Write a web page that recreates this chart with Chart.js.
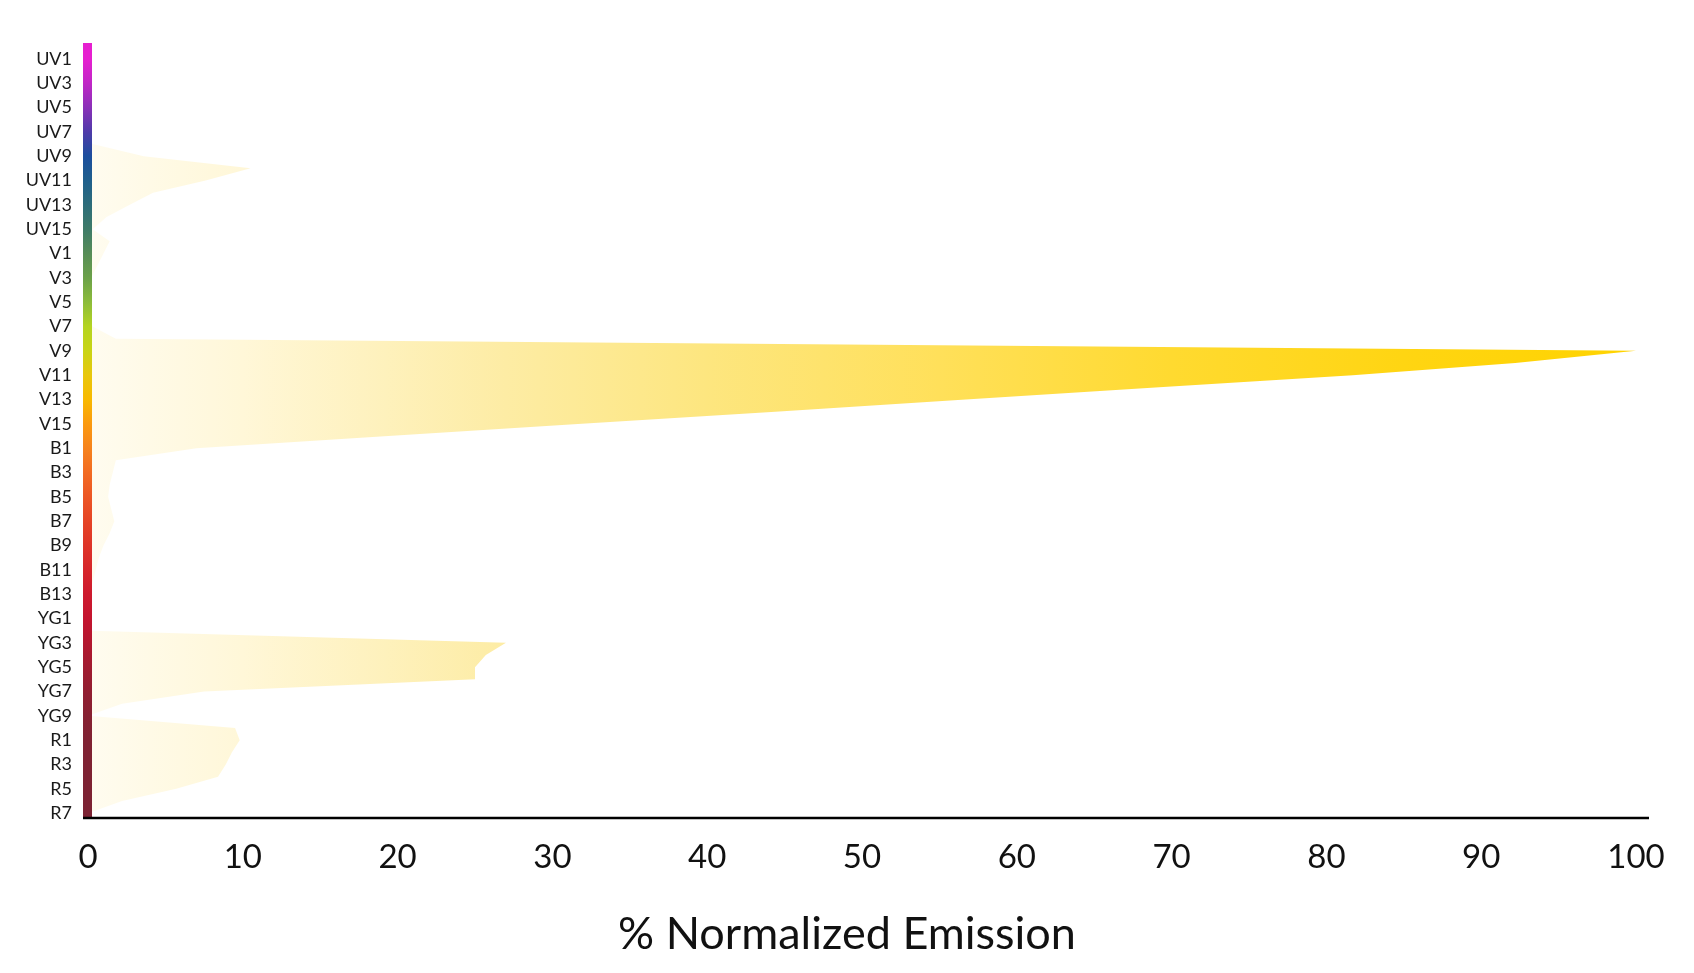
<!DOCTYPE html>
<html>
<head>
<meta charset="utf-8">
<script src="https://cdn.jsdelivr.net/npm/chart.js@4.4.1/dist/chart.umd.min.js"></script>
<style>
html,body{margin:0;padding:0;background:#fff;}
#wrap{width:1694px;height:973px;position:relative;}
</style>
</head>
<body>
<div id="wrap"><canvas id="c"></canvas></div>
<script>
// ---- data ----
const categories = [
  'UV1','UV2','UV3','UV4','UV5','UV6','UV7','UV8','UV9','UV10','UV11','UV12','UV13','UV14','UV15','UV16',
  'V1','V2','V3','V4','V5','V6','V7','V8','V9','V10','V11','V12','V13','V14','V15','V16',
  'B1','B2','B3','B4','B5','B6','B7','B8','B9','B10','B11','B12','B13','B14',
  'YG1','YG2','YG3','YG4','YG5','YG6','YG7','YG8','YG9','YG10',
  'R1','R2','R3','R4','R5','R6','R7'
];
const emission = [
  0, 0, 0, 0, 0, 0, 0, 0.3, 3.6, 10.5, 7.6, 4.2, 2.7, 1.2, 0.3, 1.4,
  1.0, 0.6, 0.2, 0, 0, 0, 0.3, 1.8, 100, 92.2, 81.7, 69.2, 56.7, 44.4, 31.9, 19.4,
  7.0, 1.8, 1.6, 1.4, 1.3, 1.5, 1.7, 1.4, 1.0, 0.7, 0.5, 0.3, 0.1, 0,
  0, 0.2, 27.0, 25.7, 25.0, 25.0, 7.5, 2.2, 0, 9.5,
  9.8, 9.3, 8.9, 8.4, 5.7, 2.2, 0
];
const shownLabels = ['UV1','UV3','UV5','UV7','UV9','UV11','UV13','UV15','V1','V3','V5','V7','V9','V11','V13','V15',
  'B1','B3','B5','B7','B9','B11','B13','YG1','YG3','YG5','YG7','YG9','R1','R3','R5','R7'];
const xTickValues = [0,10,20,30,40,50,60,70,80,90,100];
const axisTitle = '% Normalized Emission';
// colour of the wavelength bar at each labelled category
const bandColors = [
  ['UV1','#e61fd0'],['UV3','#c026c6'],['UV5','#8a30b8'],['UV7','#4f3aa9'],['UV9','#1c4e9e'],
  ['UV11','#1f5f8c'],['UV13','#2d6d7a'],['UV15','#3e7b68'],['V1','#578d57'],['V3','#6ba149'],
  ['V5','#8cbc3a'],['V7','#b4d420'],['V9','#c9d415'],['V11','#e8c70c'],['V13','#f8b900'],
  ['V15','#fb9a0f'],['B1','#f6831d'],['B3','#f26b22'],['B5','#ec5625'],['B7','#e54426'],
  ['B9','#de3428'],['B11','#d6262b'],['B13','#cd1a2e'],['YG1','#c4142f'],['YG3','#b3172f'],
  ['YG5','#a11b30'],['YG7','#921e31'],['YG9','#872132'],['R1','#802233'],['R7','#7c2233']
];
// fill gradient along the emission axis: [value, colour]
const fillStops = [
  [0,'#fffcf0'],[10,'#fff7d8'],[27,'#fdeca4'],[40,'#fde67f'],[55,'#ffe05a'],
  [70,'#ffda30'],[85,'#ffd512'],[100,'#ffd300']
];

const points = emission.map((v, i) => ({x: v, y: i}));

const axisBar = {
  id: 'axisBar',
  afterDatasetsDraw(chart) {
    const {ctx, chartArea, scales} = chart;
    const {top, bottom, left, right} = chartArea;
    const y = scales.y;
    const g = ctx.createLinearGradient(0, top, 0, bottom);
    bandColors.forEach(([name, color]) => {
      const p = y.getPixelForValue(categories.indexOf(name));
      g.addColorStop(Math.min(1, Math.max(0, (p - top) / (bottom - top))), color);
    });
    ctx.save();
    ctx.fillStyle = g;
    ctx.fillRect(left - 5, top, 9, bottom - top);
    ctx.strokeStyle = '#000';
    ctx.lineWidth = 2.5;
    ctx.beginPath();
    ctx.moveTo(left - 5, bottom);
    ctx.lineTo(right + 13, bottom);
    ctx.stroke();
    ctx.restore();
  }
};

let gradCache = null;
function fillGradient(context) {
  const chart = context.chart;
  const area = chart.chartArea;
  if (!area) return '#ffe680';
  const x = chart.scales.x;
  const x0 = x.getPixelForValue(0), x1 = x.getPixelForValue(100);
  if (gradCache && gradCache.x0 === x0 && gradCache.x1 === x1) return gradCache.g;
  const g = chart.ctx.createLinearGradient(x0, 0, x1, 0);
  fillStops.forEach(([v, c]) => g.addColorStop(v / 100, c));
  gradCache = {x0, x1, g};
  return g;
}

new Chart(document.getElementById('c'), {
  type: 'line',
  data: {
    datasets: [{
      data: points,
      fill: 'origin',
      backgroundColor: fillGradient,
      borderWidth: 0,
      borderColor: 'rgba(0,0,0,0)',
      pointRadius: 0,
      tension: 0
    }]
  },
  options: {
    indexAxis: 'y',
    responsive: true,
    maintainAspectRatio: false,
    animation: false,
    devicePixelRatio: 1,
    layout: {padding: {top: 43, right: 0, left: 0, bottom: 0}},
    plugins: {
      legend: {display: false},
      tooltip: {enabled: false},
      title: {
        display: true,
        position: 'bottom',
        text: axisTitle,
        color: '#111',
        font: {family: 'Lato', size: 45, weight: 'normal', lineHeight: 1.2},
        padding: {top: 0, bottom: 12}
      }
    },
    scales: {
      x: {
        type: 'linear',
        min: 0,
        max: 100,
        afterBuildTicks: (s) => { s.ticks = xTickValues.map(v => ({value: v})); },
        afterFit: (s) => { s.height = 89; },
        grid: {display: false, drawTicks: false},
        border: {display: false},
        ticks: {
          color: '#111',
          padding: 20,
          maxRotation: 0,
          autoSkip: false,
          font: {family: 'Lato', size: 33}
        }
      },
      y: {
        type: 'linear',
        reverse: true,
        min: -1.3,
        max: 62.4,
        afterBuildTicks: (s) => { s.ticks = shownLabels.map(n => ({value: categories.indexOf(n)})); },
        afterFit: (s) => { s.width = 88; },
        grid: {display: false, drawTicks: false},
        border: {display: false},
        ticks: {
          color: '#1a1a1a',
          padding: 16,
          autoSkip: false,
          font: {family: 'Lato', size: 18},
          callback: (v) => categories[v]
        }
      },
      spacer: {
        type: 'linear',
        position: 'right',
        display: true,
        afterFit: (s) => { s.width = 58; },
        grid: {display: false, drawTicks: false},
        border: {display: false},
        ticks: {display: false}
      }
    }
  },
  plugins: [axisBar]
});
</script>
</body>
</html>
